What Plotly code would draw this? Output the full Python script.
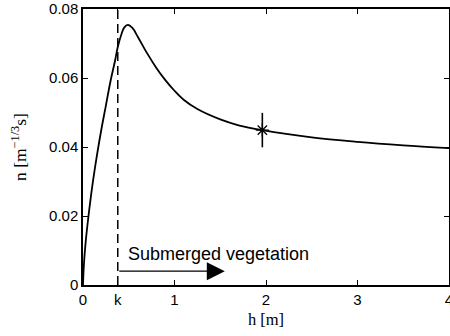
import plotly.graph_objects as go

# Manning roughness n versus flow depth h
h = [0, 0.01, 0.03, 0.06, 0.1, 0.15, 0.2, 0.25, 0.3, 0.35, 0.38, 0.42, 0.45,
     0.49, 0.54, 0.6, 0.7, 0.8, 0.9, 1.0, 1.1, 1.25, 1.5, 1.7, 1.96, 2.5,
     3.0, 3.5, 4.0]
n = [0, 0.006, 0.0127, 0.020, 0.0284, 0.0372, 0.045, 0.052, 0.059, 0.065,
     0.069, 0.0727, 0.0746, 0.0754, 0.0745, 0.0719, 0.0672, 0.0630, 0.0594,
     0.0563, 0.0537, 0.0510, 0.0480, 0.0463, 0.0449, 0.0428, 0.0415, 0.0405,
     0.0397]

# vegetation height k
k = 0.38

# measured point with its error bar
meas_h = [1.96]
meas_n = [0.0449]
meas_err = [0.005]

x_tickvals = [0, k, 1, 2, 3, 4]
x_ticktext = ["0", "k", "1", "2", "3", "4"]
y_tickvals = [0, 0.02, 0.04, 0.06, 0.08]
y_ticktext = ["0", "0.02", "0.04", "0.06", "0.08"]

arrow_y = 0.004
arrow_end = 1.55

fig = go.Figure()

fig.add_trace(go.Scatter(
    x=h, y=n, mode="lines",
    line=dict(color="black", width=1.8, shape="spline", smoothing=1.0),
    showlegend=False, hoverinfo="skip"))

fig.add_trace(go.Scatter(
    x=[k, k], y=[0, 0.08], mode="lines",
    line=dict(color="black", width=1.5, dash="9px,5px"),
    showlegend=False, hoverinfo="skip"))

fig.add_trace(go.Scatter(
    x=meas_h, y=meas_n, mode="markers",
    marker=dict(symbol="asterisk-open", size=11, color="black",
                line=dict(color="black", width=1.3)),
    error_y=dict(type="data", array=meas_err, color="black",
                 thickness=1.6, width=0),
    showlegend=False, hoverinfo="skip"))

fig.add_annotation(
    x=arrow_end, y=arrow_y, ax=k, ay=arrow_y,
    xref="x", yref="y", axref="x", ayref="y",
    text="", showarrow=True, arrowhead=2, arrowsize=3,
    arrowwidth=1.2, arrowcolor="black", standoff=0)

fig.add_annotation(
    x=k + 0.085, y=0.0090, xref="x", yref="y",
    text="Submerged vegetation", showarrow=False,
    xanchor="left", yanchor="middle",
    font=dict(family="Liberation Sans, Arial, sans-serif", size=18, color="black"))

axis_common = dict(
    showline=True, linecolor="black", linewidth=1.5, mirror="allticks",
    ticks="inside", ticklen=5, tickwidth=1, tickcolor="black",
    showgrid=False, zeroline=False, ticklabeloverflow="allow",
    automargin=False,
    tickfont=dict(family="Liberation Sans, Arial, sans-serif", size=15, color="black"))

fig.update_xaxes(
    range=[0, 4], tickmode="array", tickvals=x_tickvals, ticktext=x_ticktext,
    title=dict(text="h [m]", standoff=7,
               font=dict(family="Liberation Serif, Times New Roman, serif", size=16.5, color="black")),
    **axis_common)

fig.update_yaxes(
    range=[0, 0.08], tickmode="array", tickvals=y_tickvals, ticktext=y_ticktext,
    title=dict(text="n [m<sup>−1/3</sup>s]", standoff=18,
               font=dict(family="Liberation Serif, Times New Roman, serif", size=17.5, color="black")),
    **axis_common)

fig.update_layout(
    width=450, height=336,
    margin=dict(l=83, r=1, t=9, b=51),
    paper_bgcolor="white", plot_bgcolor="white",
    showlegend=False)

fig.write_html("out.html")
